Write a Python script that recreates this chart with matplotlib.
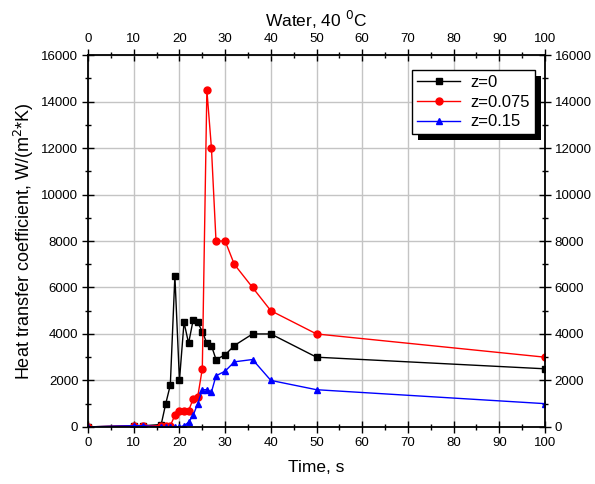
import matplotlib.pyplot as plt
from matplotlib.ticker import MultipleLocator
from matplotlib.patches import Rectangle

plt.rcParams['font.family'] = ['Liberation Sans', 'DejaVu Sans']

# time, s
t0 = [0, 10, 12, 16, 17, 18, 19, 20, 21, 22, 23, 24, 25, 26, 27, 28, 30, 32, 36, 40, 50, 100]
h0 = [0, 50, 50, 100, 1000, 1800, 6500, 2000, 4500, 3600, 4600, 4500, 4100, 3600, 3500, 2900,
      3100, 3500, 4000, 4000, 3000, 2500]

t075 = [0, 10, 12, 16, 17, 18, 19, 20, 21, 22, 23, 24, 25, 26, 27, 28, 30, 32, 36, 40, 50, 100]
h075 = [0, 50, 50, 50, 50, 50, 500, 700, 700, 700, 1200, 1300, 2500, 14500, 12000, 8000,
        8000, 7000, 6000, 5000, 4000, 3000]

t15 = [0, 10, 12, 16, 17, 18, 19, 20, 21, 22, 23, 24, 25, 26, 27, 28, 30, 32, 36, 40, 50, 100]
h15 = [0, 50, 50, 0, 0, 0, 0, 0, 50, 200, 500, 1000, 1600, 1600, 1500, 2200, 2400, 2800, 2900,
       2000, 1600, 1000]

fig = plt.figure(figsize=(5.95, 4.84), dpi=100)
ax = fig.add_axes([0.148, 0.118, 0.768, 0.768])

ax.plot(t0, h0, color='black', marker='s', markersize=4.5, linewidth=1, label='z=0')
ax.plot(t075, h075, color='red', marker='o', markersize=5, linewidth=1, label='z=0.075')
ax.plot(t15, h15, color='blue', marker='^', markersize=5, linewidth=1, label='z=0.15')

ax.set_xlim(0, 100)
ax.set_ylim(0, 16000)
ax.xaxis.set_major_locator(MultipleLocator(10))
ax.xaxis.set_minor_locator(MultipleLocator(5))
ax.yaxis.set_major_locator(MultipleLocator(2000))
ax.yaxis.set_minor_locator(MultipleLocator(1000))
ax.tick_params(which='both', direction='inout', top=True, right=True,
               labeltop=True, labelright=True, labelsize=9.5, width=1)
ax.tick_params(which='major', length=8, pad=3)
ax.tick_params(which='minor', length=4)
ax.grid(True, which='major', color='#c4c4c4', linewidth=1)
ax.set_axisbelow(True)
for s in ax.spines.values():
    s.set_linewidth(1.3)

ax.set_xlabel('Time, s', fontsize=12.5, labelpad=8)
ax.set_ylabel('Heat transfer coefficient, W/(m$^{2}$*K)', fontsize=13, labelpad=4)
ax.set_title('Water, 40 $^{0}$C', fontsize=12.5, pad=20)

leg = ax.legend(loc='upper right', bbox_to_anchor=(0.978, 0.96), borderaxespad=0,
                fontsize=12, frameon=True, fancybox=False, framealpha=1,
                borderpad=0.3, handlelength=2.6, labelspacing=0.28, handletextpad=0.6)
leg.get_frame().set_edgecolor('black')
leg.get_frame().set_linewidth(1)

# offset black shadow behind the legend box
fig.canvas.draw()
bb = leg.get_frame().get_window_extent().transformed(ax.transAxes.inverted())
dx, dy = 6 / (0.768 * 595), 6 / (0.768 * 484)
ax.add_patch(Rectangle((bb.x0 + dx, bb.y0 - dy), bb.width, bb.height, transform=ax.transAxes,
                       facecolor='black', edgecolor='none', zorder=4.5, clip_on=False))

fig.savefig('out.png', dpi=100)
